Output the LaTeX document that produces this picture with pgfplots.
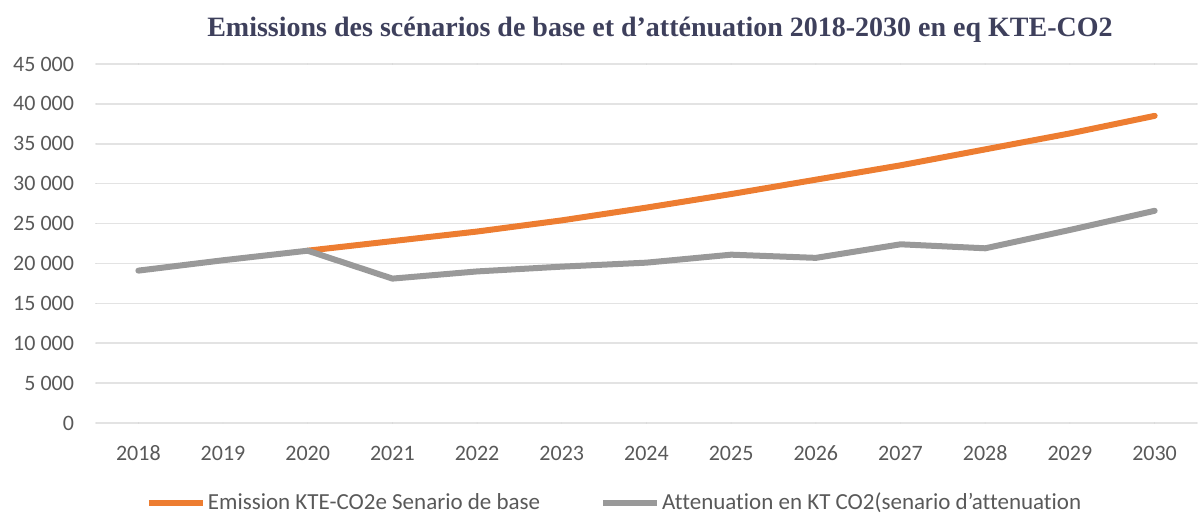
\documentclass[border=0pt]{standalone}
\usepackage{pgfplots}
\pgfplotsset{compat=1.18}
\usepackage{fontspec}
\setmainfont{Carlito}[Ligatures=NoCommon]
\newfontfamily\titlefont{Liberation Serif}
\definecolor{baseorange}{HTML}{ED7D31}
\definecolor{attgray}{HTML}{999999}
\definecolor{gridgray}{HTML}{E3E3E3}
\definecolor{ticktext}{HTML}{595959}
\definecolor{titleblue}{HTML}{3E405C}
\begin{document}
\begin{tikzpicture}
\begin{axis}[
  scale only axis, width=550.5bp, height=179.5bp,
  xmin=2017.5, xmax=2030.5, ymin=0, ymax=45000,
  xtick={2018,...,2030}, ytick={0,5000,...,45000},
  scaled ticks=false,
  axis line style={draw=none}, major tick length=0pt,
  ymajorgrids, grid style={gridgray, line width=0.8bp},
  font=\fontsize{11bp}{13bp}\selectfont,
  tick label style={ticktext},
  /pgf/number format/assume math mode=true,
  yticklabel style={/pgf/number format/.cd, fixed, 1000 sep={\ }, /tikz/.cd, xshift=-7.5bp},
  xticklabel style={/pgf/number format/1000 sep={}, yshift=-7bp,
    text height=8bp, text depth=0pt},
  legend columns=2,
  legend style={draw=none, fill=none, at={(0.471,-0.223)}, anchor=center,
    font=\fontsize{11.5bp}{13bp}\selectfont, text=ticktext,
    nodes={inner xsep=1bp},
    /tikz/every even column/.append style={column sep=29bp}},
  legend image code/.code={\draw[#1, line width=3bp] (0,0) -- (27bp,0);},
  line join=round, line cap=round,
]
\addplot[baseorange, line width=3bp] coordinates {
  (2020,21600) (2021,22800) (2022,24000) (2023,25400) (2024,27000) (2025,28700)
  (2026,30500) (2027,32300) (2028,34300) (2029,36300) (2030,38500)};
\addlegendentry{Emission KTE-CO2e Senario de base}
\addplot[attgray, line width=3bp] coordinates {
  (2018,19100) (2019,20400) (2020,21600) (2021,18100) (2022,19000) (2023,19600)
  (2024,20100) (2025,21100) (2026,20700) (2027,22400) (2028,21900) (2029,24200)
  (2030,26600)};
\addlegendentry{Attenuation en KT CO2(senario d’attenuation}
\end{axis}
\node[titleblue, font=\titlefont\bfseries\fontsize{14bp}{16bp}\selectfont] at (282bp,196.5bp)
  {Emissions des scénarios de base et d’atténuation 2018-2030 en eq KTE-CO2};
\pgfresetboundingbox
\path[use as bounding box] (-48bp,-46bp) rectangle (552bp,211.5bp);
\end{tikzpicture}
\end{document}
